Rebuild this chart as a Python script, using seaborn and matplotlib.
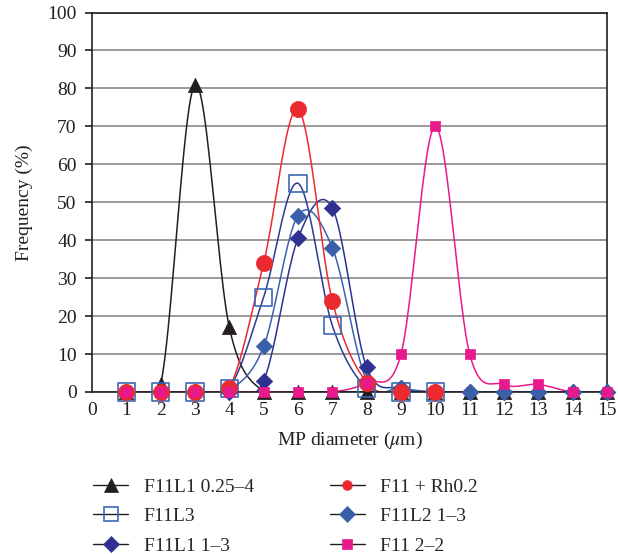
import numpy as np
import pandas as pd
import matplotlib
matplotlib.use("Agg")
import matplotlib.pyplot as plt
from matplotlib.lines import Line2D
import seaborn as sns

# ---- data ----
x_vals = list(range(1, 16))
f11l1_025_4 = [0, 2, 81, 17, 0, 0, 0, 0, 0, 0, 0, 0, 0, 0, 0]
f11_rh02 = [0, 0, 0, 1, 34, 74.5, 24, 2.5, 0, 0, np.nan, np.nan, np.nan, np.nan, np.nan]
f11l3 = [0, 0, 0, 1, 25, 55, 17.5, 1, 0, 0, np.nan, np.nan, np.nan, np.nan, np.nan]
f11l2_1_3 = [0, 0, 0, 0.5, 12, 46.5, 38, 3, 1, 0, 0, 0, 0, 0, 0]
f11l1_1_3 = [0, 0, 0, 0, 3, 40.5, 48.5, 6.5, 1, 0, 0, 0, 0, 0, 0]
f11_2_2 = [0, 0, 0, 0, 0, 0, 0, 2.5, 10, 70, 10, 2, 2, 0, 0]

series_names = ["F11L1 0.25–4", "F11L3", "F11L1 1–3", "F11 + Rh0.2", "F11L2 1–3", "F11 2–2"]
x_ticks = list(range(0, 16))
y_ticks = list(range(0, 101, 10))

sns.set_theme(style="white")
plt.rcParams["font.family"] = ["Liberation Serif", "DejaVu Serif"]
plt.rcParams["mathtext.fontset"] = "stix"

FS = 14


def smooth(xs, ys, n=24):
    """Excel-like Catmull-Rom smoothing through the data points (for drawing only)."""
    xs = np.asarray(xs, float)
    ys = np.asarray(ys, float)
    outx, outy = [], []
    m = ~np.isnan(ys)
    xs, ys = xs[m], ys[m]
    P = np.column_stack([xs, ys])
    k = len(P)
    for i in range(k - 1):
        p0 = P[i - 1] if i > 0 else P[i]
        p1 = P[i]
        p2 = P[i + 1]
        p3 = P[i + 2] if i + 2 < k else P[i + 1]
        c1 = p1 + (p2 - p0) / 6.0
        c2 = p2 - (p3 - p1) / 6.0
        t = np.linspace(0, 1, n)[:, None]
        pts = ((1 - t) ** 3) * p1 + 3 * ((1 - t) ** 2) * t * c1 + 3 * (1 - t) * t ** 2 * c2 + t ** 3 * p2
        outx.extend(pts[:, 0])
        outy.extend(pts[:, 1])
    return np.array(outx), np.array(outy)


fig = plt.figure(figsize=(6.18, 5.54), dpi=100)
ax = fig.add_axes([92 / 618, 1 - 392 / 554, (607 - 92) / 618, (392 - 12.5) / 554])

specs = [
    # name, data, line color, marker, face, edge, size, edge width
    ("F11L1 0.25–4", f11l1_025_4, "#231f20", "^", "#231f20", "#231f20", 105, 0.5),
    ("F11L3", f11l3, "#2b3a8f", "s", "none", "#3d67b3", 150, 1.2),
    ("F11L1 1–3", f11l1_1_3, "#2a3490", "D", "#2e3192", "#2e3192", 70, 0.5),
    ("F11L2 1–3", f11l2_1_3, "#3a62ad", "D", "#3a5fa9", "#3a5fa9", 70, 0.5),
    ("F11 + Rh0.2", f11_rh02, "#ea2a2f", "o", "#ea2a2f", "#ea2a2f", 135, 0.5),
    ("F11 2–2", f11_2_2, "#e8198b", "s", "#e8198b", "#e8198b", 48, 0.5),
]

for name, data, lc, mk, fc, ec, sz, lw in specs:
    sx, sy = smooth(x_vals, data)
    sns.lineplot(x=sx, y=sy, sort=False, estimator=None, color=lc, lw=1.1, ax=ax, legend=False)
for name, data, lc, mk, fc, ec, sz, lw in specs:
    df = pd.DataFrame({"x": x_vals, "y": data}).dropna()
    sns.scatterplot(data=df, x="x", y="y", marker=mk, s=sz, color=fc if fc != "none" else "white",
                    facecolor=fc, edgecolor=ec, linewidth=lw, ax=ax, legend=False, zorder=3,
                    clip_on=False)

ax.set_xlim(0, 15)
ax.set_ylim(0, 100)
ax.set_xticks(x_ticks)
ax.set_yticks(y_ticks)
ax.yaxis.grid(True, color="#7f7f7f", lw=1.1)
ax.xaxis.grid(False)
for s in ax.spines.values():
    s.set_color("#231f20")
    s.set_linewidth(1.2)
ax.tick_params(axis="y", length=5, width=1.2, color="#231f20", labelsize=FS, pad=6, left=True)
ax.tick_params(axis="x", length=0, labelsize=FS, pad=7)
for lab in ax.get_xticklabels() + ax.get_yticklabels():
    lab.set_color("#231f20")
ax.set_xlabel(r"MP diameter ($\mu$m)", fontsize=FS, color="#231f20", labelpad=8)
ax.set_ylabel("Frequency (%)", fontsize=FS, color="#231f20", labelpad=10)

handles = []
order = ["F11L1 0.25–4", "F11L3", "F11L1 1–3", "F11 + Rh0.2", "F11L2 1–3", "F11 2–2"]
leg_sizes = {"F11L1 0.25–4": 10, "F11L3": 10, "F11L1 1–3": 8.5, "F11 + Rh0.2": 7, "F11L2 1–3": 8.5, "F11 2–2": 6.5}
spec_map = {s[0]: s for s in specs}
for nm in order:
    _, _, lc, mk, fc, ec, sz, lw = spec_map[nm]
    handles.append(Line2D([], [], color="#231f20", lw=1.0, marker=mk, markersize=leg_sizes[nm],
                          markerfacecolor=fc, markeredgecolor=ec, markeredgewidth=1.2 if fc == "none" else 0.5))
fig.legend(handles, order, ncol=2, loc="upper left", bbox_to_anchor=(93 / 618, 1 - 478 / 554),
           frameon=False, fontsize=FS, handlelength=1.8, columnspacing=3.9, labelspacing=0.62,
           handletextpad=0.8, borderpad=0, borderaxespad=0)

fig.savefig("out.png", dpi=100)
